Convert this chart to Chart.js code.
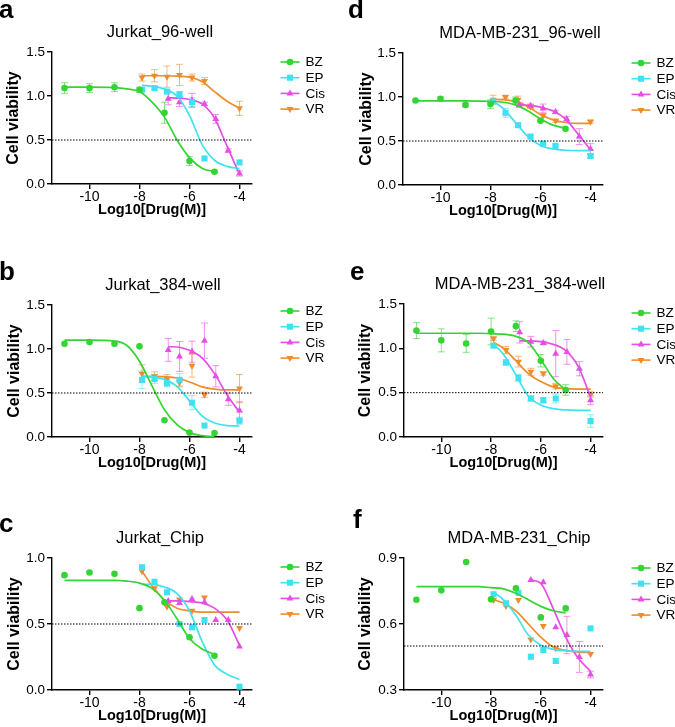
<!DOCTYPE html>
<html>
<head>
<meta charset="utf-8">
<script src="https://cdn.jsdelivr.net/npm/chart.js@4.4.0/dist/chart.umd.min.js"></script>
<style>
  body { margin: 0; background: #fff; width: 675px; height: 727px; position: relative; overflow: hidden; }
  canvas { position: absolute; }
</style>
</head>
<body>
<script>
// drugs and doses (log10 M)
const drugs = ['BZ', 'EP', 'Cis', 'VR'];
const doseBZ = [-11, -10, -9, -8, -7, -6, -5];
const doseEP = [-7.9, -7.4, -6.9, -6.4, -5.9, -5.4, -4];
const doseCis = [-6.85, -6.4, -5.9, -5.4, -4.95, -4.45, -4];
const doseVR = [-7.9, -7.4, -6.9, -6.4, -5.9, -5.4, -4];

const fitXBZ = [-11, -10, -9, -8.5, -8, -7.5, -7, -6.5, -6, -5.5, -5];
const fitXEP = [-7.9, -7.5, -7, -6.5, -6, -5.5, -5, -4.5, -4];
const fitXCis = [-6.85, -6.4, -6, -5.5, -5, -4.5, -4];
const fitXVR = [-7.9, -7.5, -7, -6.5, -6, -5.5, -5, -4.5, -4];

const xTicks = [-10, -8, -6, -4];
const yTicks15 = [0, 0.5, 1.0, 1.5];
const yTicks10 = [0, 0.5, 1.0];
const yTicks09 = [0.3, 0.6, 0.9];
const cutoff = 0.5;

// a: Jurkat_96-well  (rows: BZ, EP, Cis, VR)
const j96Mean = [
  [1.09, 1.09, 1.10, 1.07, 0.81, 0.26, 0.14],
  [1.07, 1.09, 1.05, 1.02, 0.93, 0.29, 0.245],
  [0.97, 0.93, 0.95, 0.91, 0.74, 0.38, 0.12],
  [1.21, 1.23, 1.22, 1.24, 1.21, 1.17, 0.86]
];
const j96Err = [
  [0.06, 0.05, 0.05, 0.03, 0.12, 0.05, 0.01],
  [0.02, 0.02, 0.02, 0.03, 0.05, 0, 0],
  [0.07, 0.05, 0.08, 0.02, 0.05, 0.02, 0.03],
  [0.04, 0.07, 0.12, 0.12, 0.04, 0.04, 0.08]
];
const j96Fit = [
  [1.10, 1.10, 1.095, 1.08, 1.05, 0.93, 0.76, 0.50, 0.30, 0.18, 0.14],
  [1.12, 1.11, 1.08, 1.0, 0.78, 0.45, 0.27, 0.20, 0.175],
  [0.98, 0.975, 0.96, 0.91, 0.75, 0.43, 0.11],
  [1.23, 1.23, 1.23, 1.225, 1.215, 1.165, 1.05, 0.94, 0.86]
];

// d: MDA-MB-231_96-well
const m96Mean = [
  [0.96, 0.98, 0.91, 0.92, 0.96, 0.73, 0.64],
  [0.95, 0.82, 0.68, 0.55, 0.47, 0.445, 0.33],
  [0.91, 0.90, 0.87, 0.83, 0.75, 0.55, 0.41],
  [0.97, 1.0, 0.97, 0.89, 0.79, 0.73, 0.72]
];
const m96Err = [
  [0, 0.02, 0.02, 0.05, 0.04, 0.01, 0],
  [0.01, 0.05, 0.02, 0.02, 0.01, 0.01, 0.02],
  [0.03, 0.02, 0.05, 0.02, 0.03, 0.09, 0.06],
  [0.05, 0.02, 0.04, 0.02, 0.02, 0.02, 0.02]
];
const m96Fit = [
  [0.955, 0.955, 0.955, 0.953, 0.95, 0.94, 0.91, 0.84, 0.75, 0.68, 0.645],
  [0.95, 0.87, 0.71, 0.55, 0.45, 0.41, 0.395, 0.39, 0.39],
  [0.91, 0.905, 0.885, 0.84, 0.75, 0.58, 0.40],
  [0.975, 0.97, 0.95, 0.89, 0.80, 0.74, 0.71, 0.70, 0.70]
];

// b: Jurkat_384-well
const j384Mean = [
  [1.06, 1.08, 1.06, 1.03, 0.19, 0.05, 0.045],
  [0.65, 0.66, 0.61, 0.65, 0.39, 0.13, 0.185],
  [0.99, 0.915, 0.97, 1.095, 0.69, 0.43, 0.30],
  [0.72, 0.69, 0.66, 0.62, 0.81, 0.48, 0.55]
];
const j384Err = [
  [0, 0, 0, 0, 0, 0, 0],
  [0.1, 0.05, 0.04, 0.07, 0.08, 0, 0.04],
  [0.13, 0.17, 0.12, 0.2, 0.12, 0.07, 0.1],
  [0.1, 0.05, 0.05, 0.05, 0.13, 0.03, 0.16]
];
const j384Fit = [
  [1.10, 1.10, 1.09, 1.04, 0.86, 0.58, 0.31, 0.14, 0.05, 0.015, 0.005],
  [0.69, 0.68, 0.655, 0.575, 0.41, 0.24, 0.16, 0.13, 0.125],
  [1.027, 1.02, 0.985, 0.90, 0.72, 0.48, 0.28],
  [0.69, 0.69, 0.685, 0.67, 0.625, 0.57, 0.545, 0.535, 0.535]
];

// e: MDA-MB-231_384-well
const m384Mean = [
  [1.20, 1.09, 1.055, 1.19, 1.25, 0.86, 0.53],
  [1.03, 0.84, 0.667, 0.434, 0.415, 0.434, 0.18],
  [1.18, 1.075, 1.06, 0.94, 0.96, 0.77, 0.415],
  [1.11, 0.98, 0.85, 0.735, 0.717, 0.573, 0.48]
];
const m384Err = [
  [0.09, 0.13, 0.1, 0.15, 0.06, 0.07, 0.06],
  [0.02, 0.03, 0.04, 0.03, 0.03, 0.05, 0.07],
  [0.12, 0.06, 0.02, 0.26, 0.14, 0.08, 0.05],
  [0.02, 0.04, 0.06, 0.04, 0.02, 0.03, 0.03]
];
const m384Fit = [
  [1.17, 1.17, 1.17, 1.17, 1.165, 1.16, 1.135, 1.065, 0.875, 0.66, 0.53],
  [1.05, 0.93, 0.70, 0.46, 0.36, 0.32, 0.305, 0.30, 0.30],
  [1.085, 1.085, 1.075, 1.045, 0.975, 0.80, 0.45],
  [1.065, 1.0, 0.86, 0.715, 0.625, 0.565, 0.545, 0.54, 0.54]
];

// c: Jurkat_Chip
const jChipMean = [
  [0.87, 0.89, 0.88, 0.62, 0.665, 0.40, 0.26],
  [0.93, 0.82, 0.74, 0.50, 0.475, 0.53, 0.025],
  [0.675, 0.66, 0.69, 0.665, 0.53, 0.53, 0.33],
  [0.90, 0.77, 0.63, 0.685, 0.60, 0.70, 0.47]
];
const jChipFit = [
  [0.83, 0.83, 0.83, 0.825, 0.81, 0.77, 0.68, 0.54, 0.39, 0.31, 0.27],
  [0.80, 0.80, 0.78, 0.73, 0.60, 0.37, 0.19, 0.12, 0.08],
  [0.675, 0.675, 0.67, 0.66, 0.62, 0.53, 0.34],
  [0.90, 0.79, 0.68, 0.62, 0.60, 0.59, 0.59, 0.59, 0.59]
];

// f: MDA-MB-231_Chip
const mChipMean = [
  [0.71, 0.753, 0.882, 0.712, 0.762, 0.63, 0.671],
  [0.735, 0.694, 0.742, 0.451, 0.482, 0.432, 0.58],
  [null, 0.80, 0.79, 0.585, 0.55, 0.45, 0.37],
  [0.709, 0.682, 0.709, 0.53, 0.591, 0.49, 0.464]
];
const mChipErr = [
  [0, 0, 0, 0, 0, 0, 0],
  [0, 0, 0, 0, 0, 0, 0],
  [0, 0, 0, 0, 0.085, 0.07, 0.015],
  [0, 0, 0, 0, 0, 0, 0]
];
const mChipFit = [
  [0.77, 0.77, 0.77, 0.77, 0.765, 0.76, 0.74, 0.71, 0.68, 0.66, 0.65],
  [0.745, 0.71, 0.64, 0.55, 0.505, 0.485, 0.478, 0.476, 0.475],
  [null, 0.80, 0.785, 0.67, 0.54, 0.445, 0.385],
  [0.71, 0.695, 0.66, 0.60, 0.54, 0.495, 0.48, 0.472, 0.47]
];

const doses = [doseBZ, doseEP, doseCis, doseVR];
const fitXs = [fitXBZ, fitXEP, fitXCis, fitXVR];
const colors = ['#33d433', '#3fe2f0', '#e64ee6', '#f08c2a'];
const barColors = ['rgba(51,212,51,0.6)', 'rgba(63,226,240,0.6)', 'rgba(230,78,230,0.6)', 'rgba(240,140,42,0.6)'];
const markers = ['circle', 'rect', 'triangle', 'triangle'];
const markerRot = [0, 0, 0, 180];
const markerSize = [3.3, 4.3, 4, 4];
const xMin = -11.5, xMax = -3.5;

const FONT = '"Liberation Sans", Arial, sans-serif';
Chart.defaults.font.family = FONT;
Chart.defaults.color = '#000';

const panels = [
  { letter: 'a', title: 'Jurkat_96-well', mean: j96Mean, err: j96Err, fit: j96Fit, yMin: 0, yMax: 1.5, yTicks: yTicks15,
    pos: [0, 0, 337, 230], area: [52, 52, 252, 184], padL: 4, titleX: 160, legendY: 62, letterAt: [-1, 18] },
  { letter: 'd', title: 'MDA-MB-231_96-well', mean: m96Mean, err: m96Err, fit: m96Fit, yMin: 0, yMax: 1.5, yTicks: yTicks15,
    pos: [337, 0, 338, 230], area: [66, 53, 266, 185], padL: 20, titleX: 183, legendY: 63, letterAt: [11, 18] },
  { letter: 'b', title: 'Jurkat_384-well', mean: j384Mean, err: j384Err, fit: j384Fit, yMin: 0, yMax: 1.5, yTicks: yTicks15,
    pos: [0, 230, 337, 240], area: [52, 75, 252, 207], padL: 5, titleX: 163, legendY: 81, letterAt: [-1, 50] },
  { letter: 'e', title: 'MDA-MB-231_384-well', mean: m384Mean, err: m384Err, fit: m384Fit, yMin: 0, yMax: 1.5, yTicks: yTicks15,
    pos: [337, 230, 338, 240], area: [67, 74, 266, 207], padL: 19, titleX: 183, legendY: 83, letterAt: [13, 50] },
  { letter: 'c', title: 'Jurkat_Chip', mean: jChipMean, err: null, fit: jChipFit, yMin: 0, yMax: 1.0, yTicks: yTicks10,
    pos: [0, 470, 337, 257], area: [52, 88, 252, 220], padL: 4.5, titleX: 160, legendY: 97, letterAt: [-1, 62] },
  { letter: 'f', title: 'MDA-MB-231_Chip', mean: mChipMean, err: mChipErr, fit: mChipFit, yMin: 0.3, yMax: 0.9, yTicks: yTicks09,
    pos: [337, 470, 338, 257], area: [67, 88, 266, 220], padL: 19, titleX: 182, legendY: 98, letterAt: [16, 58] }
];

function marker(ctx, i, x, y) {
  ctx.fillStyle = colors[i];
  ctx.strokeStyle = colors[i];
  Chart.helpers.drawPoint(ctx, { pointStyle: markers[i], rotation: markerRot[i], radius: markerSize[i], borderWidth: 0 }, x, y);
}

// error bars drawn through the scales
const errorBars = {
  id: 'errorBars',
  beforeDatasetsDraw(chart) {
    const { ctx, scales: { x, y } } = chart;
    chart.data.datasets.forEach(ds => {
      if (!ds.err) return;
      ctx.save();
      ctx.strokeStyle = ds.errColor;
      ctx.lineWidth = 1;
      ds.data.forEach((p, j) => {
        const e = ds.err[j];
        if (p.y == null || !e) return;
        const px = x.getPixelForValue(p.x);
        const t = y.getPixelForValue(p.y + e);
        const b = y.getPixelForValue(p.y - e);
        ctx.beginPath();
        ctx.moveTo(px, t); ctx.lineTo(px, b);
        ctx.moveTo(px - 3.5, t); ctx.lineTo(px + 3.5, t);
        ctx.moveTo(px - 3.5, b); ctx.lineTo(px + 3.5, b);
        ctx.stroke();
      });
      ctx.restore();
    });
  }
};

// title, panel letter and legend
const panelDecor = {
  id: 'panelDecor',
  afterDraw(chart, args, opts) {
    const { ctx, chartArea } = chart;
    ctx.save();
    ctx.fillStyle = '#000';
    ctx.textBaseline = 'middle';
    ctx.textAlign = 'center';
    ctx.font = '16.5px ' + FONT;
    ctx.fillText(opts.title, opts.titleX, chartArea.top - 20);
    ctx.textAlign = 'left';
    ctx.textBaseline = 'alphabetic';
    ctx.font = 'bold 26px ' + FONT;
    ctx.fillText(opts.letter, opts.letterAt[0], opts.letterAt[1]);
    const lx = chartArea.right + 28.5;
    drugs.forEach((d, i) => {
      const ly = opts.legendY + i * 15.7;
      ctx.strokeStyle = colors[i];
      ctx.lineWidth = 1.6;
      ctx.beginPath();
      ctx.moveTo(lx, ly); ctx.lineTo(lx + 19, ly);
      ctx.stroke();
      marker(ctx, i, lx + 9.5, ly);
      ctx.fillStyle = '#000';
      ctx.font = '13.5px ' + FONT;
      ctx.textBaseline = 'middle';
      ctx.fillText(d, lx + 25, ly + 0.5);
    });
    ctx.restore();
  }
};

panels.forEach(p => {
  const cv = document.createElement('canvas');
  cv.width = p.pos[2];
  cv.height = p.pos[3];
  cv.style.left = p.pos[0] + 'px';
  cv.style.top = p.pos[1] + 'px';
  document.body.appendChild(cv);

  const datasets = [{
    label: 'IC50 line',
    data: [{ x: xMin, y: cutoff }, { x: xMax, y: cutoff }],
    borderColor: '#000', borderWidth: 1, borderDash: [1.5, 1.5], pointRadius: 0
  }];
  drugs.forEach((d, i) => {
    datasets.push({
      label: d + ' fit',
      data: fitXs[i].map((x, j) => ({ x, y: p.fit[i][j] })),
      borderColor: colors[i], borderWidth: 1.7, pointRadius: 0,
      cubicInterpolationMode: 'monotone', spanGaps: false
    });
    datasets.push({
      label: d,
      data: doses[i].map((x, j) => ({ x, y: p.mean[i][j] })),
      showLine: false,
      pointStyle: markers[i], pointRotation: markerRot[i], pointRadius: markerSize[i],
      pointBackgroundColor: colors[i], pointBorderColor: colors[i], pointBorderWidth: 0,
      err: p.err ? p.err[i] : null, errColor: barColors[i]
    });
  });

  const axisBase = {
    grid: { drawOnChartArea: false, drawTicks: true, tickLength: 5, color: '#000', lineWidth: 1.4 },
    border: { display: true, color: '#000', width: 1.4 }
  };

  new Chart(cv, {
    type: 'line',
    data: { datasets },
    options: {
      responsive: false,
      animation: false,
      events: [],
      layout: { padding: { left: p.padL, top: p.area[1], right: p.pos[2] - p.area[2], bottom: p.pos[3] - p.area[3] - 35 } },
      plugins: {
        legend: { display: false },
        tooltip: { enabled: false },
        panelDecor: { title: p.title, titleX: p.titleX, letter: p.letter, letterAt: p.letterAt, legendY: p.legendY }
      },
      scales: {
        x: Object.assign({}, axisBase, {
          type: 'linear', min: xMin, max: xMax,
          afterBuildTicks: s => { s.ticks = xTicks.map(v => ({ value: v })); },
          afterFit: s => { s.height = 35; },
          ticks: { font: { size: 14 }, padding: 0, maxRotation: 0, callback: v => String(v) },
          title: { display: true, text: 'Log10[Drug(M)]', font: { size: 14.5, weight: 'bold' }, padding: 0 }
        }),
        y: Object.assign({}, axisBase, {
          type: 'linear', min: p.yMin, max: p.yMax,
          afterBuildTicks: s => { s.ticks = p.yTicks.map(v => ({ value: v })); },
          afterFit: s => { s.width = p.area[0] - p.padL; },
          ticks: { font: { size: 13.5 }, padding: 2, callback: v => v.toFixed(1) },
          title: { display: true, text: 'Cell viability', font: { size: 16, weight: 'bold' }, padding: 0 }
        })
      }
    },
    plugins: [errorBars, panelDecor]
  });
});
</script>
</body>
</html>
